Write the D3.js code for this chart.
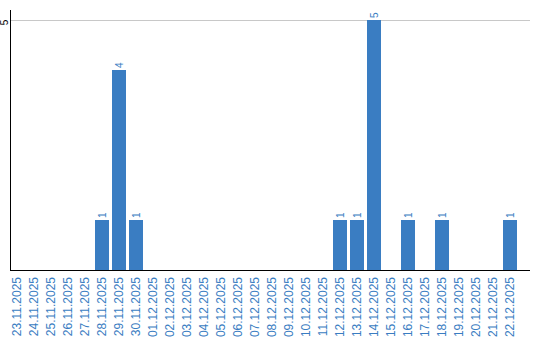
<!DOCTYPE html>
<html><head><meta charset="utf-8">
<script src="https://cdn.jsdelivr.net/npm/d3@7"></script>
<style>body{margin:0;background:#fff}svg{display:block}</style>
</head><body>
<script>
const dates = ["23.11.2025","24.11.2025","25.11.2025","26.11.2025","27.11.2025","28.11.2025","29.11.2025","30.11.2025","01.12.2025","02.12.2025","03.12.2025","04.12.2025","05.12.2025","06.12.2025","07.12.2025","08.12.2025","09.12.2025","10.12.2025","11.12.2025","12.12.2025","13.12.2025","14.12.2025","15.12.2025","16.12.2025","17.12.2025","18.12.2025","19.12.2025","20.12.2025","21.12.2025","22.12.2025"];
const counts = [0,0,0,0,0,1,4,1,0,0,0,0,0,0,0,0,0,0,0,1,1,5,0,1,0,1,0,0,0,1];
const yTicks = [5];

const W = 540, H = 340;
const blue = "#3a7dc2";
const svg = d3.select("body").append("svg").attr("width", W).attr("height", H);

const x = d3.scaleBand().domain(dates).range([8.5, 518.5]).paddingInner(3/17).paddingOuter(3/34);
const y = d3.scaleLinear().domain([0, 5]).range([270, 20]);

// gridline
svg.selectAll(".grid").data(yTicks).enter().append("line")
  .attr("x1", 10.5).attr("x2", 530).attr("y1", d => Math.round(y(d)) + 0.5).attr("y2", d => Math.round(y(d)) + 0.5)
  .attr("stroke", "#c8c8c8").attr("stroke-width", 1);

// y tick labels
svg.selectAll(".ylab").data(yTicks).enter().append("text")
  .attr("transform", d => `translate(8,${y(d)+2.5}) rotate(-90)`)
  .attr("text-anchor", "middle")
  .attr("font-family", "Liberation Sans, Arial, sans-serif").attr("font-size", 10).attr("fill", "#000")
  .text(d => d);

// bars
const data = dates.map((d, i) => ({d, v: counts[i]})).filter(o => o.v > 0);
svg.selectAll(".bar").data(data).enter().append("rect")
  .attr("x", o => x(o.d)).attr("width", x.bandwidth())
  .attr("y", o => y(o.v)).attr("height", o => y(0) - y(o.v))
  .attr("fill", blue);

// value labels
svg.selectAll(".vlab").data(data).enter().append("text")
  .attr("transform", o => `translate(${x(o.d) + x.bandwidth()/2 + 3.5},${y(o.v) - 2}) rotate(-90)`)
  .attr("text-anchor", "start")
  .attr("font-family", "Liberation Sans, Arial, sans-serif").attr("font-size", 10).attr("fill", blue)
  .text(o => o.v);

// axes lines
svg.append("line").attr("x1", 10.5).attr("x2", 10.5).attr("y1", 10).attr("y2", 270.5).attr("stroke", "#000");
svg.append("line").attr("x1", 10).attr("x2", 530).attr("y1", 270.5).attr("y2", 270.5).attr("stroke", "#000");

// x labels
svg.selectAll(".xlab").data(dates).enter().append("text")
  .attr("transform", d => `translate(${x(d) + x.bandwidth()/2 + 4},277) rotate(-90)`)
  .attr("text-anchor", "end")
  .attr("font-family", "Liberation Sans, Arial, sans-serif").attr("font-size", 12).attr("fill", blue)
  .text(d => d);
</script>
</body></html>
